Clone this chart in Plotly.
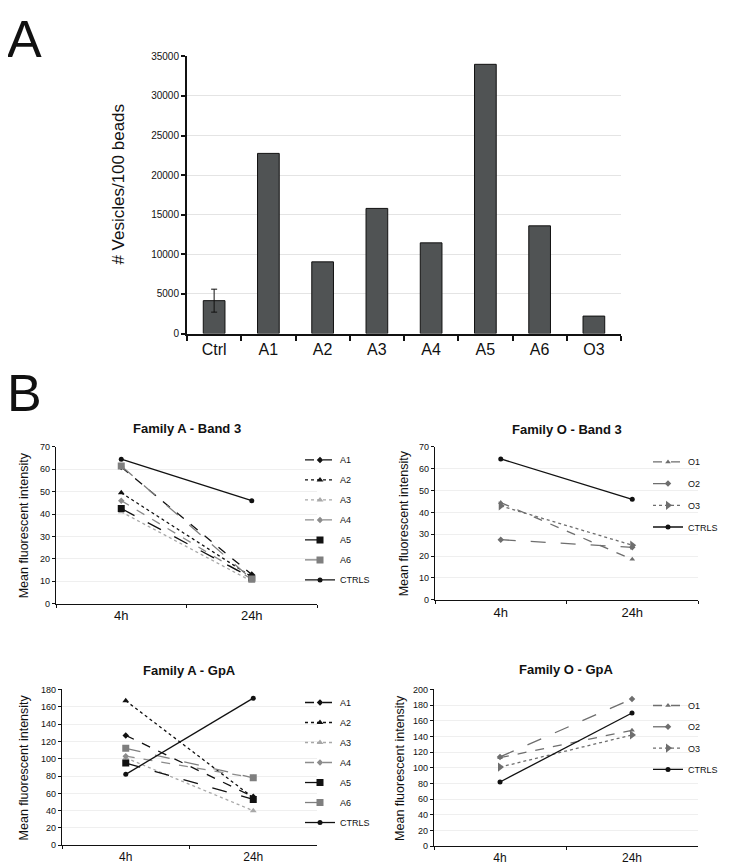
import plotly.graph_objects as go

W, H = 730, 865

# ---- Panel A data ----
bar_categories = ["Ctrl", "A1", "A2", "A3", "A4", "A5", "A6", "O3"]
bar_values = [4150, 22750, 9050, 15800, 11450, 34000, 13600, 2200]
ctrl_error = 1450

# ---- Panel B data ----
times = ["4h", "24h"]
famA_names = ["A1", "A2", "A3", "A4", "A5", "A6", "CTRLS"]
famA_band3 = {
    "A1": [61, 13], "A2": [49.5, 12], "A3": [41, 10], "A4": [46, 11],
    "A5": [42.5, 11.5], "A6": [61.5, 11], "CTRLS": [64.5, 46],
}
famA_gpa = {
    "A1": [127, 56], "A2": [167, 55], "A3": [101, 40], "A4": [103, 78],
    "A5": [95, 53], "A6": [112, 78], "CTRLS": [82, 170],
}
famO_names = ["O1", "O2", "O3", "CTRLS"]
famO_band3 = {"O1": [44.5, 18.5], "O2": [27.5, 24], "O3": [43, 25], "CTRLS": [64.5, 46]}
famO_gpa = {"O1": [113, 148], "O2": [114, 188], "O3": [101, 142], "CTRLS": [82, 170]}

styles = {
    "A1": dict(color="#111111", dash="dash", symbol="diamond", size=5),
    "A2": dict(color="#111111", dash="dot", symbol="triangle-up", size=6),
    "A3": dict(color="#a8a8a8", dash="dot", symbol="triangle-up", size=6),
    "A4": dict(color="#8c8c8c", dash="dash", symbol="diamond", size=5),
    "A5": dict(color="#111111", dash="longdash", symbol="square", size=7),
    "A6": dict(color="#7f7f7f", dash="longdash", symbol="square", size=7),
    "CTRLS": dict(color="#111111", dash="solid", symbol="circle", size=5),
    "O1": dict(color="#6e6e6e", dash="dash", symbol="triangle-up", size=5),
    "O2": dict(color="#6e6e6e", dash="longdash", symbol="diamond", size=5),
    "O3": dict(color="#6e6e6e", dash="dot", symbol="triangle-right", size=8),
}

FONT = "Liberation Sans, Arial, sans-serif"


def px_x(p):
    return p / W


def px_y(p):
    return 1 - p / H


fig = go.Figure()

# Panel A bar chart
fig.add_trace(go.Bar(
    x=bar_categories, y=bar_values,
    marker=dict(color="#505354", line=dict(color="#111111", width=1)),
    width=0.4, showlegend=False, xaxis="x", yaxis="y",
))
# error bar on the control bar only
fig.add_trace(go.Scatter(
    x=bar_categories[:1], y=bar_values[:1], mode="markers",
    marker=dict(size=1, color="rgba(0,0,0,0)"),
    error_y=dict(type="data", array=[ctrl_error], visible=True, color="#111111",
                 thickness=1, width=3),
    showlegend=False, hoverinfo="skip", xaxis="x", yaxis="y",
))

panels = [
    # (suffix, data, names, legend, x0, x1, y_top, y_bottom, ymax, dtick, title, title_y,
    #  ytitle_x, legend_x, legend_y, gap, xtick_font)
    ("2", famA_band3, famA_names, "legend", 48, 309, 439, 598, 70, 10, "Family A - Band 3", 420, 16, 292, 437.5, 1, 13),
    ("3", famO_band3, famO_names, "legend2", 427, 690, 439, 594, 70, 10, "Family O - Band 3", 421, 396, 640, 439.5, 2.7, 13),
    ("4", famA_gpa, famA_names, "legend3", 54, 309, 685, 843, 180, 20, "Family A - GpA", 666, 16, 292, 683.5, 1, 12),
    ("5", famO_gpa, famO_names, "legend4", 426, 690, 685, 844, 200, 20, "Family O - GpA", 665, 392, 640, 686.5, 2.3, 12),
]

annotations = []
layout_axes = {}
legends = {}
for (suf, data, names, leg, x0, x1, yt, yb, ymax, dt, title, ty, ytx, lx, ly, gap, xf) in panels:
    for n in names:
        s = styles[n]
        fig.add_trace(go.Scatter(
            x=times, y=data[n], name=n, mode="lines+markers",
            line=dict(color=s["color"], dash=s["dash"], width=1.3),
            marker=dict(color=s["color"], symbol=s["symbol"], size=s["size"]),
            xaxis="x" + suf, yaxis="y" + suf, legend=leg, legendgroup=leg + n,
        ))
    layout_axes["xaxis" + suf] = dict(
        domain=[px_x(x0), px_x(x1)], anchor="y" + suf, type="category",
        range=[-0.5, 1.5], tickson="boundaries", ticks="outside", ticklen=3,
        tickcolor="#111111", showline=True, linecolor="#111111", linewidth=1.3,
        showgrid=False, tickfont=dict(family=FONT, size=xf, color="#111111"),
        zeroline=False,
    )
    layout_axes["yaxis" + suf] = dict(
        domain=[px_y(yb), px_y(yt)], anchor="x" + suf, range=[0, ymax], dtick=dt,
        ticks="outside", ticklen=3, tickcolor="#111111", showline=True,
        linecolor="#111111", linewidth=1.3, showgrid=True, gridcolor="#efefef",
        gridwidth=1, zeroline=False,
        tickfont=dict(family=FONT, size=9, color="#111111"),
    )
    legends[leg] = dict(
        x=px_x(lx), y=px_y(ly), xanchor="left", yanchor="top",
        font=dict(family=FONT, size=9, color="#111111"),
        bgcolor="rgba(0,0,0,0)", tracegroupgap=gap, itemwidth=30,
    )
    annotations.append(dict(
        text="<b>" + title + "</b>", x=px_x((x0 + x1) / 2), y=px_y(ty),
        xref="paper", yref="paper", showarrow=False, xanchor="center", yanchor="middle",
        font=dict(family=FONT, size=13, color="#111111"),
    ))
    annotations.append(dict(
        text="Mean fluorescent intensity", x=px_x(ytx), y=px_y((yt + yb) / 2),
        xref="paper", yref="paper", showarrow=False, textangle=-90,
        xanchor="center", yanchor="middle",
        font=dict(family=FONT, size=12.5, color="#111111"),
    ))

annotations.append(dict(
    text="# Vesicles/100 beads", x=px_x(111), y=px_y(173), xref="paper", yref="paper",
    showarrow=False, textangle=-90, xanchor="center", yanchor="middle",
    font=dict(family=FONT, size=17, color="#111111"),
))
annotations.append(dict(
    text="A", x=px_x(-3), y=px_y(25), xref="paper", yref="paper", showarrow=False,
    xanchor="left", yanchor="middle", font=dict(family=FONT, size=52, color="#111111"),
))
annotations.append(dict(
    text="B", x=px_x(-3), y=px_y(384), xref="paper", yref="paper", showarrow=False,
    xanchor="left", yanchor="middle", font=dict(family=FONT, size=52, color="#111111"),
))

fig.update_layout(
    width=W, height=H, margin=dict(l=0, r=0, t=0, b=0),
    paper_bgcolor="white", plot_bgcolor="white",
    xaxis=dict(
        domain=[px_x(179), px_x(613)], anchor="y", type="category",
        tickson="boundaries", ticks="outside", ticklen=5, tickwidth=2,
        tickcolor="#111111", showline=True, linecolor="#111111", linewidth=2,
        tickfont=dict(family=FONT, size=16, color="#111111"), showgrid=False,
    ),
    yaxis=dict(
        domain=[px_y(324), px_y(43)], anchor="x", range=[0, 35000], dtick=5000,
        tickformat="d", ticks="outside", ticklen=4, tickwidth=1.5, tickcolor="#111111",
        showline=True, linecolor="#111111", linewidth=2, showgrid=True,
        gridcolor="#e4e4e4", zeroline=False,
        tickfont=dict(family=FONT, size=10, color="#111111"),
    ),
    annotations=annotations,
    **layout_axes,
    **legends,
)

fig.write_html("out.html")
